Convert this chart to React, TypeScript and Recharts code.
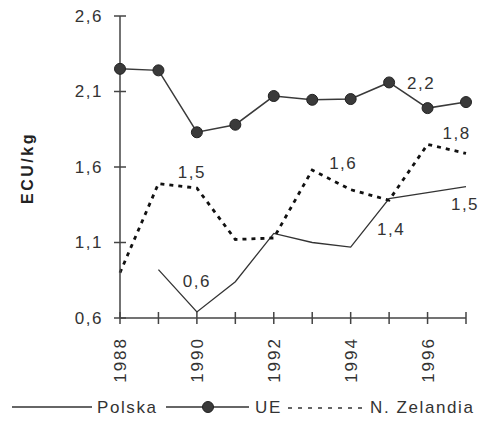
import { LineChart, Line, XAxis, YAxis, LabelList } from 'recharts';

const YEARS = ['1988', '1989', '1990', '1991', '1992', '1993', '1994', '1995', '1996', '1997'];
const POLSKA = [null, 0.92, 0.64, 0.84, 1.16, 1.1, 1.07, 1.39, 1.43, 1.47];
const UE = [2.25, 2.24, 1.83, 1.88, 2.07, 2.045, 2.05, 2.16, 1.99, 2.03];
const NZELANDIA = [0.9, 1.49, 1.46, 1.12, 1.13, 1.58, 1.45, 1.38, 1.75, 1.69];
const Y_TICKS = [0.6, 1.1, 1.6, 2.1, 2.6];

// which points carry a value label, and where the label sits relative to the point
const POLSKA_LABELS: Record<number, [number, number]> = { 2: [0, -30], 7: [2, 31], 9: [-1, 18] };
const UE_LABELS: Record<number, [number, number]> = { 7: [32, 1] };
const NZ_LABELS: Record<number, [number, number]> = { 2: [-5, -16], 5: [31, -7], 8: [29, -11] };

const FONT = '"Liberation Sans", Arial, sans-serif';
const INK = '#333';

const data = YEARS.map((year, i) => ({
  year,
  polska: POLSKA[i],
  ue: UE[i],
  nz: NZELANDIA[i],
}));

const fmt = (v: number) => v.toFixed(1).replace('.', ',');

function pointLabel(map: Record<number, [number, number]>) {
  return (props: any) => {
    const { x, y, value, index } = props;
    const off = map[index];
    if (!off || value == null) return null;
    return (
      <text
        x={x + off[0]}
        y={y + off[1]}
        textAnchor="middle"
        dominantBaseline="central"
        fontSize={17}
        letterSpacing={1.5}
        fill={INK}
        fontFamily={FONT}
      >
        {fmt(value)}
      </text>
    );
  };
}

const XTick = (props: any) => {
  const { x, y, payload } = props;
  const even = parseInt(payload.value, 10) % 2 === 0;
  return (
    <g>
      <line x1={x} x2={x} y1={y - 6} y2={y + 6} stroke="#444" strokeWidth={1.5} />
      {even && (
        <text
          x={x}
          y={y + 19}
          transform={`rotate(-90 ${x} ${y + 19})`}
          textAnchor="end"
          dy="0.36em"
          fontSize={17}
          letterSpacing={2}
          fill={INK}
          fontFamily={FONT}
        >
          {payload.value}
        </text>
      )}
    </g>
  );
};

const YTick = (props: any) => {
  const { x, y, payload } = props;
  return (
    <g>
      <line x1={x - 6} x2={x + 6} y1={y} y2={y} stroke="#444" strokeWidth={1.5} />
      <text
        x={x - 17}
        y={y}
        textAnchor="end"
        dominantBaseline="central"
        fontSize={17}
        letterSpacing={1.5}
        fill={INK}
        fontFamily={FONT}
      >
        {fmt(payload.value)}
      </text>
    </g>
  );
};

const YTitle = (props: any) => {
  const { viewBox } = props;
  const cx = viewBox.x + 27;
  const cy = viewBox.y + viewBox.height / 2 + 1;
  return (
    <text
      x={cx}
      y={cy}
      transform={`rotate(-90 ${cx} ${cy})`}
      textAnchor="middle"
      dominantBaseline="central"
      fontSize={16}
      fontWeight="bold"
      letterSpacing={2.5}
      fill="#222"
      fontFamily={FONT}
    >
      ECU/kg
    </text>
  );
};

function LegendRow() {
  const text = { fontSize: 17, letterSpacing: 1.6, fill: INK, fontFamily: FONT } as const;
  return (
    <svg width={486} height={30} style={{ position: 'absolute', left: 0, top: 392, display: 'block' }}>
      <line x1={12} x2={92} y1={15} y2={15} stroke={INK} strokeWidth={1.3} />
      <text x={97} y={15} dominantBaseline="central" {...text}>Polska</text>
      <line x1={166} x2={249} y1={15} y2={15} stroke={INK} strokeWidth={1.3} />
      <circle cx={208} cy={15} r={5.5} fill="#3a3a3a" stroke="#222" />
      <text x={255} y={15} dominantBaseline="central" {...text}>UE</text>
      <line x1={288} x2={366} y1={16} y2={16} stroke={INK} strokeWidth={1.5} strokeDasharray="4 6" />
      <text x={370} y={15} dominantBaseline="central" {...text}>N. Zelandia</text>
    </svg>
  );
}

export default function App() {
  return (
    <div style={{ position: 'relative', margin: -8, width: 486, height: 421, background: '#fff', fontFamily: FONT }}>
      <LineChart width={486} height={421} data={data} margin={{ top: 16, right: 20, left: 0, bottom: 43 }}>
        <XAxis
          dataKey="year"
          interval={0}
          tickSize={0}
          tickMargin={0}
          tick={<XTick />}
          height={60}
          axisLine={{ stroke: '#444', strokeWidth: 1.5 }}
        />
        <YAxis
          width={120}
          domain={[0.6, 2.6]}
          ticks={Y_TICKS}
          tickSize={0}
          tickMargin={0}
          tick={<YTick />}
          axisLine={{ stroke: '#444', strokeWidth: 1.5 }}
          label={<YTitle />}
        />
        <Line
          dataKey="polska"
          stroke={INK}
          strokeWidth={1.3}
          dot={false}
          isAnimationActive={false}
        >
          <LabelList dataKey="polska" content={pointLabel(POLSKA_LABELS)} />
        </Line>
        <Line
          dataKey="ue"
          stroke="#3a3a3a"
          strokeWidth={1.5}
          dot={{ r: 5.5, fill: '#3a3a3a', stroke: '#222', strokeWidth: 1 }}
          isAnimationActive={false}
        >
          <LabelList dataKey="ue" content={pointLabel(UE_LABELS)} />
        </Line>
        <Line
          dataKey="nz"
          stroke="#111"
          strokeWidth={2.8}
          strokeDasharray="4 5"
          dot={false}
          isAnimationActive={false}
        >
          <LabelList dataKey="nz" content={pointLabel(NZ_LABELS)} />
        </Line>
      </LineChart>
      <LegendRow />
    </div>
  );
}
